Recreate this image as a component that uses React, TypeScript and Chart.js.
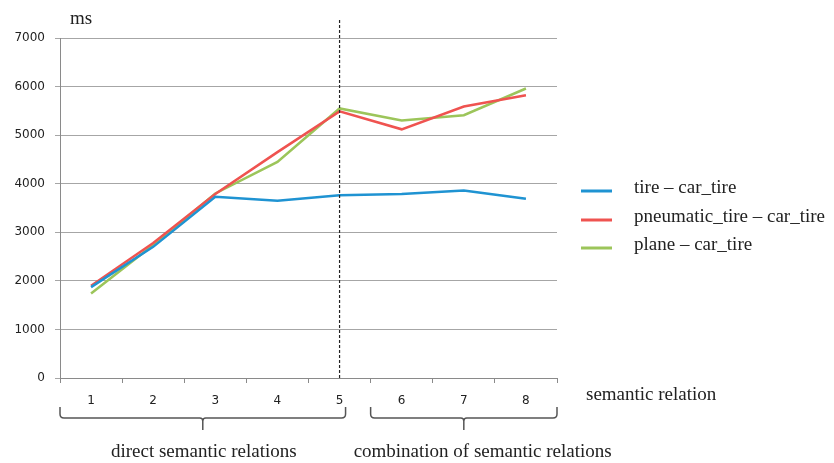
import React, { useEffect, useRef } from "react";
import { Chart, registerables } from "chart.js";

Chart.register(...registerables);

const categories = ["1", "2", "3", "4", "5", "6", "7", "8"];
const tireCarTire = [1870, 2700, 3730, 3650, 3760, 3790, 3860, 3690];
const pneumaticCarTire = [1900, 2780, 3790, 4650, 5490, 5120, 5590, 5820];
const planeCarTire = [1740, 2740, 3800, 4450, 5550, 5300, 5410, 5960];
const seriesNames = ["tire \u2013 car_tire", "pneumatic_tire \u2013 car_tire", "plane \u2013 car_tire"];
const seriesColors = ["#1f93d2", "#ef5350", "#9cc55a"];
const yTicks = [0, 1000, 2000, 3000, 4000, 5000, 6000, 7000];
const yUnit = "ms";
const xTitle = "semantic relation";
const groupLabels = ["direct semantic relations", "combination of semantic relations"];

const SERIF = "'Liberation Serif', 'Times New Roman', serif";
const SANS = "'DejaVu Sans', Verdana, sans-serif";

export default function App() {
  const ref = useRef<HTMLCanvasElement | null>(null);

  useEffect(() => {
    if (!ref.current) return;

    const drawBrace = (ctx: CanvasRenderingContext2D, x1: number, x2: number, yTop: number) => {
      const yLine = yTop + 11;
      const mid = (x1 + x2) / 2;
      const r = 4;
      ctx.beginPath();
      ctx.moveTo(x1, yTop);
      ctx.lineTo(x1, yLine - r);
      ctx.quadraticCurveTo(x1, yLine, x1 + r, yLine);
      ctx.lineTo(mid - 3, yLine);
      ctx.quadraticCurveTo(mid, yLine, mid, yLine + 3);
      ctx.lineTo(mid, yLine + 12);
      ctx.moveTo(mid, yLine + 3);
      ctx.quadraticCurveTo(mid, yLine, mid + 3, yLine);
      ctx.lineTo(x2 - r, yLine);
      ctx.quadraticCurveTo(x2, yLine, x2, yLine - r);
      ctx.lineTo(x2, yTop);
      ctx.stroke();
    };

    const annot = {
      id: "annot",
      afterDraw(chart: any) {
        const ctx: CanvasRenderingContext2D = chart.ctx;
        const xs = chart.scales.x;
        const area = chart.chartArea;
        ctx.save();
        // dashed divider at category 5
        const xd = xs.getPixelForValue(4);
        ctx.strokeStyle = "#222";
        ctx.lineWidth = 1.2;
        ctx.setLineDash([3, 2]);
        ctx.beginPath();
        ctx.moveTo(xd, area.top - 18);
        ctx.lineTo(xd, area.bottom);
        ctx.stroke();
        ctx.setLineDash([]);

        // unit label
        ctx.fillStyle = "#222";
        ctx.font = "19px " + SERIF;
        ctx.textAlign = "left";
        ctx.textBaseline = "middle";
        ctx.fillText(yUnit, area.left + 10, area.top - 19);

        // x title
        ctx.fillText(xTitle, area.right + 29, area.bottom + 17);

        // braces
        const step = xs.getPixelForValue(1) - xs.getPixelForValue(0);
        ctx.strokeStyle = "#555";
        ctx.lineWidth = 1.5;
        const b1l = area.left;
        const b1r = xs.getPixelForValue(4) + 6;
        const b2l = xs.getPixelForValue(5) - step / 2;
        const b2r = area.right;
        const braceTop = area.bottom + 29;
        drawBrace(ctx, b1l, b1r, braceTop);
        drawBrace(ctx, b2l, b2r, braceTop);

        ctx.fillStyle = "#222";
        ctx.font = "19px " + SERIF;
        ctx.textAlign = "center";
        ctx.fillText(groupLabels[0], (b1l + b1r) / 2 + 1, area.bottom + 74);
        ctx.textAlign = "left";
        ctx.fillText(groupLabels[1], b2l - 17, area.bottom + 74);

        // legend
        const ly = [191, 220, 248];
        chart.data.datasets.forEach((ds: any, i: number) => {
          ctx.strokeStyle = ds.borderColor;
          ctx.lineWidth = 3;
          ctx.beginPath();
          ctx.moveTo(581, ly[i]);
          ctx.lineTo(612, ly[i]);
          ctx.stroke();
          ctx.fillStyle = "#222";
          ctx.font = "19px " + SERIF;
          ctx.textAlign = "left";
          ctx.textBaseline = "middle";
          ctx.fillText(ds.label, 634, ly[i] - 3);
        });
        ctx.restore();
      },
    };

    const chart = new Chart(ref.current, {
      type: "line",
      data: {
        labels: categories,
        datasets: [tireCarTire, pneumaticCarTire, planeCarTire].map((d, i) => ({
          label: seriesNames[i],
          data: d,
          borderColor: seriesColors[i],
          backgroundColor: seriesColors[i],
          borderWidth: 2.5,
          pointRadius: 0,
          tension: 0,
          fill: false,
        })),
      },
      options: {
        animation: false,
        responsive: false,
        devicePixelRatio: 1,
        layout: { padding: { left: 0, right: 277, top: 38, bottom: 0 } },
        plugins: { legend: { display: false }, tooltip: { enabled: false } },
        scales: {
          x: {
            type: "category",
            offset: true,
            grid: {
              offset: true,
              drawOnChartArea: false,
              drawTicks: true,
              tickLength: 5,
              color: "#8a8a8a",
            },
            border: { color: "#8a8a8a", width: 1 },
            ticks: {
              color: "#222",
              font: { family: SANS, size: 12 },
              padding: 11,
              maxRotation: 0,
            },
            afterFit(scale: any) {
              scale.height = 85;
            },
          },
          y: {
            min: 0,
            max: 7000,
            afterBuildTicks(scale: any) {
              scale.ticks = yTicks.map((v) => ({ value: v }));
            },
            grid: {
              color: "#a6a6a6",
              lineWidth: 1,
              tickLength: 5,
            },
            border: { color: "#8a8a8a", width: 1 },
            ticks: {
              color: "#222",
              font: { family: SANS, size: 12 },
              padding: 10,
              callback: (v: any) => String(v),
            },
            afterFit(scale: any) {
              scale.width = 60;
            },
          },
        },
      },
      plugins: [annot],
    } as any);

    return () => chart.destroy();
  }, []);

  return (
    <div style={{ position: "fixed", left: 0, top: 0, width: 834, height: 463, background: "#fff" }}>
      <canvas ref={ref} width={834} height={463} />
    </div>
  );
}
